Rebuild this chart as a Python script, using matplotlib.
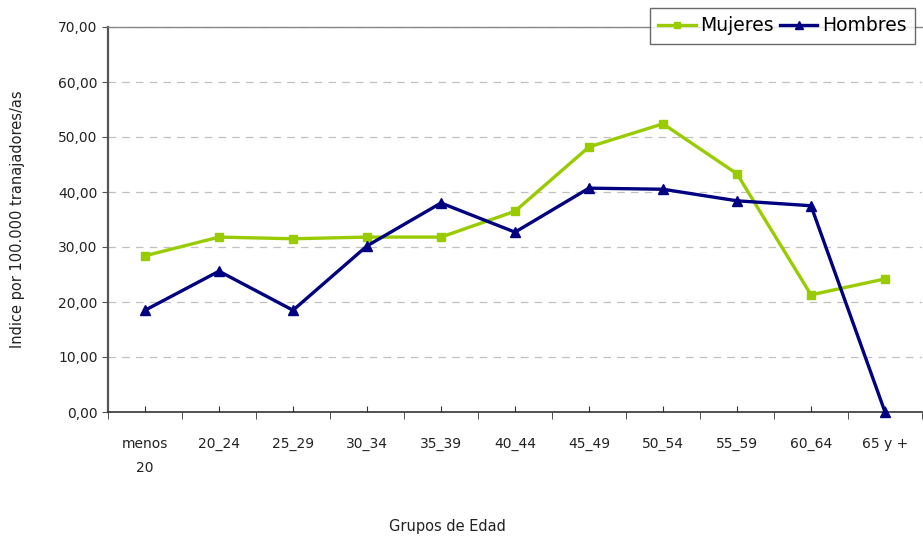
import matplotlib
matplotlib.use("Agg")
import matplotlib.pyplot as plt
from matplotlib.ticker import FuncFormatter

grupos = ["menos\n20", "20_24", "25_29", "30_34", "35_39", "40_44",
          "45_49", "50_54", "55_59", "60_64", "65 y +"]
mujeres = [28.4, 31.8, 31.5, 31.8, 31.8, 36.5, 48.2, 52.4, 43.3, 21.3, 24.2]
hombres = [18.5, 25.6, 18.5, 30.2, 38.0, 32.7, 40.7, 40.5, 38.4, 37.5, 0.0]

verde = "#99CC00"
azul = "#000080"

fig = plt.figure(figsize=(9.23, 5.36), dpi=100)
ax = fig.add_axes([108 / 923, 1 - 412 / 536, 814 / 923, 385 / 536])

x = list(range(len(grupos)))
ax.plot(x, mujeres, color=verde, lw=2.4, marker="s", ms=6, label="Mujeres",
        clip_on=False, zorder=3)
ax.plot(x, hombres, color=azul, lw=2.4, marker="^", ms=7, label="Hombres",
        clip_on=False, zorder=4)

ax.set_xlim(-0.5, len(grupos) - 0.5)
ax.set_ylim(0, 70)
ax.set_yticks(range(0, 71, 10))
ax.yaxis.set_major_formatter(FuncFormatter(lambda v, p: f"{v:.2f}".replace(".", ",")))
ax.set_xticks(x)
ax.set_xticklabels(grupos)
ax.set_xticks([i - 0.5 for i in range(len(grupos) + 1)], minor=True)

ax.tick_params(axis="x", which="major", direction="in", length=4, pad=18,
               labelsize=10, color="#333333", labelcolor="#222222")
ax.tick_params(axis="x", which="minor", direction="out", length=5, color="#333333")
ax.tick_params(axis="y", direction="out", length=4, labelsize=10,
               color="#555555", labelcolor="#222222")
for lab in ax.get_xticklabels():
    lab.set_linespacing(1.9)

ax.yaxis.grid(True, linestyle=(0, (6, 5)), color="#C0C0C0", lw=0.9)
ax.set_axisbelow(True)

ax.spines["left"].set_color("#555555")
ax.spines["left"].set_linewidth(1.6)
ax.spines["bottom"].set_color("#333333")
ax.spines["bottom"].set_linewidth(1.2)
ax.spines["top"].set_color("#888888")
ax.spines["top"].set_linewidth(1.0)
ax.spines["right"].set_visible(False)

fig.text(18 / 923, 1 - 219.5 / 536, "Indice por 100.000 tranajadores/as",
         rotation=90, ha="center", va="center", fontsize=10.5, color="#222222")
fig.text(447 / 923, 1 - 527 / 536, "Grupos de Edad", ha="center", va="center",
         fontsize=10.5, color="#222222")

leg = fig.legend(loc="upper left", bbox_to_anchor=(650 / 923, 1 - 8 / 536),
                 ncol=2, fontsize=13.5, frameon=True, fancybox=False,
                 handlelength=2.0, handletextpad=0.25, columnspacing=0.3,
                 borderpad=0.45, borderaxespad=0, markerscale=0.8)
leg.get_frame().set_edgecolor("#444444")
leg.get_frame().set_linewidth(1.0)

fig.savefig("out.png", dpi=100)
